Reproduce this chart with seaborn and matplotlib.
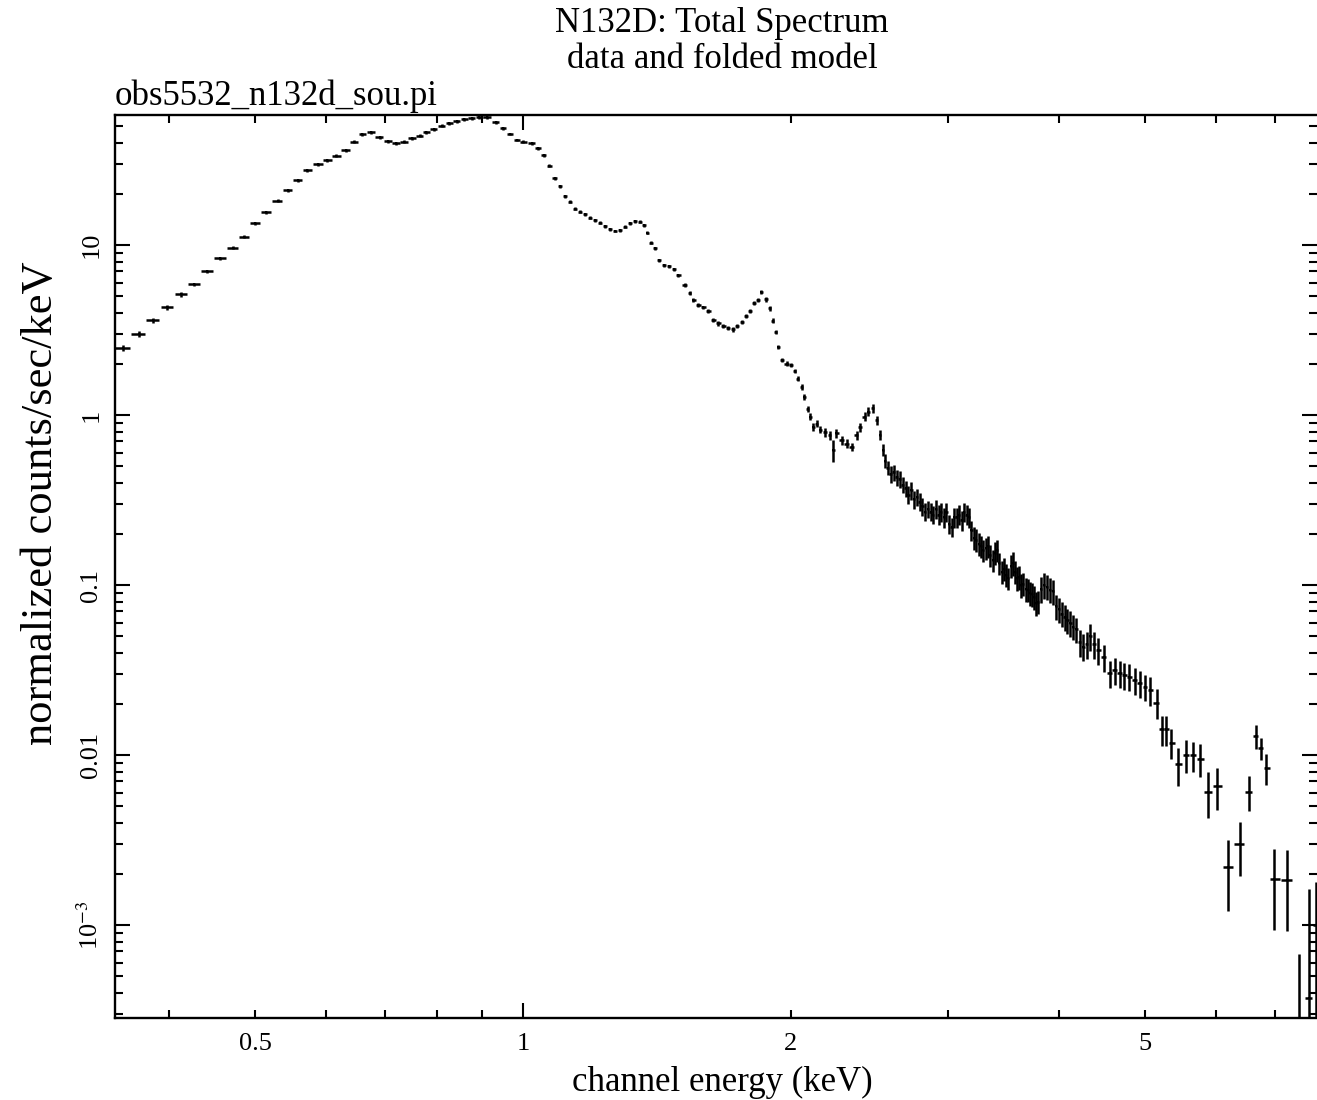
import numpy as np
import pandas as pd
import matplotlib
matplotlib.use("Agg")
import matplotlib.pyplot as plt
import seaborn as sns
from matplotlib.ticker import FixedLocator, FixedFormatter, NullFormatter

# ---------------- data ----------------
energy_soft = [0.355, 0.370, 0.384, 0.398, 0.413, 0.427, 0.442, 0.457, 0.472, 0.486,
               0.500, 0.514, 0.530, 0.544, 0.558, 0.572, 0.589, 0.603, 0.617, 0.632,
               0.646, 0.660, 0.674, 0.690, 0.705, 0.720, 0.735, 0.750, 0.766, 0.779,
               0.794, 0.810, 0.826, 0.842, 0.859, 0.876, 0.893, 0.910, 0.932]
flux_soft = [2.47, 2.99, 3.62, 4.30, 5.13, 5.87, 7.0, 8.35, 9.64, 11.2,
             13.4, 15.6, 18.2, 21.0, 24.1, 27.6, 29.9, 31.6, 33.5, 36.2,
             40.5, 44.8, 46.0, 43.0, 40.9, 39.6, 40.5, 42.4, 44.0, 46.0,
             48.1, 50.3, 52.0, 53.6, 54.8, 55.6, 56.4, 56.4, 52.8]
rel_err_soft = [0.04, 0.04, 0.035, 0.03, 0.03, 0.025, 0.025, 0.02, 0.02, 0.02,
                0.02, 0.02, 0.02, 0.02, 0.02, 0.02, 0.02, 0.02, 0.02, 0.02,
                0.02, 0.02, 0.02, 0.02, 0.02, 0.02, 0.02, 0.02, 0.02, 0.02,
                0.02, 0.02, 0.02, 0.02, 0.02, 0.02, 0.02, 0.02, 0.02]

energy_mid = [0.950, 0.967, 0.984, 1.000, 1.023, 1.040, 1.056, 1.070, 1.086, 1.100,
              1.115, 1.129, 1.144, 1.159, 1.174, 1.189, 1.205, 1.220, 1.236, 1.252,
              1.269, 1.285, 1.302, 1.319, 1.336, 1.353, 1.369, 1.379, 1.392, 1.407,
              1.423, 1.440, 1.460, 1.478, 1.495, 1.520, 1.540, 1.553, 1.574, 1.594,
              1.615, 1.636, 1.657, 1.679, 1.701, 1.720, 1.741, 1.761, 1.781, 1.800,
              1.819, 1.838, 1.851, 1.875, 1.894, 1.908, 1.922, 1.936, 1.952, 1.978,
              2.000, 2.021, 2.035, 2.056, 2.071, 2.089, 2.101, 2.120, 2.138, 2.157,
              2.184, 2.213, 2.230, 2.250, 2.280, 2.310, 2.340, 2.370, 2.390, 2.420,
              2.443, 2.470, 2.497, 2.520, 2.535]
flux_mid = [48.5, 45.0, 41.5, 40.5, 39.6, 37.0, 33.8, 29.3, 24.7, 22.2,
            19.4, 18.0, 16.4, 15.7, 15.2, 14.5, 14.0, 13.5, 12.9, 12.4,
            12.1, 12.2, 12.8, 13.4, 13.8, 13.7, 13.1, 11.8, 10.3, 9.56,
            8.16, 7.62, 7.52, 7.19, 6.66, 5.82, 5.20, 4.75, 4.44, 4.30,
            4.09, 3.62, 3.46, 3.34, 3.24, 3.19, 3.34, 3.54, 3.82, 4.09,
            4.58, 4.75, 5.31, 4.79, 4.24, 3.59, 3.09, 2.52, 2.11, 2.01,
            1.97, 1.82, 1.64, 1.47, 1.28, 1.08, 0.98, 0.85, 0.89, 0.82,
            0.79, 0.76, 0.62, 0.78, 0.71, 0.68, 0.65, 0.76, 0.85, 0.98,
            1.045, 1.095, 0.935, 0.763, 0.622]
rel_err_mid = [0.02, 0.02, 0.02, 0.02, 0.02, 0.02, 0.02, 0.02, 0.02, 0.02,
               0.02, 0.02, 0.02, 0.02, 0.02, 0.02, 0.02, 0.02, 0.02, 0.02,
               0.02, 0.02, 0.02, 0.02, 0.02, 0.02, 0.02, 0.02, 0.02, 0.02,
               0.02, 0.02, 0.02, 0.02, 0.02, 0.025, 0.025, 0.025, 0.025, 0.025,
               0.03, 0.03, 0.03, 0.03, 0.03, 0.03, 0.03, 0.03, 0.03, 0.03,
               0.03, 0.03, 0.03, 0.03, 0.03, 0.03, 0.03, 0.03, 0.03, 0.03,
               0.03, 0.03, 0.035, 0.04, 0.04, 0.04, 0.05, 0.05, 0.05, 0.05,
               0.06, 0.06, 0.15, 0.06, 0.06, 0.06, 0.06, 0.06, 0.06, 0.06,
               0.06, 0.06, 0.06, 0.07, 0.08]

energy_hard = [2.55, 2.57, 2.59, 2.61, 2.63, 2.65, 2.67, 2.69, 2.71, 2.73,
               2.75, 2.77, 2.79, 2.81, 2.83, 2.85, 2.87, 2.89, 2.91, 2.93,
               2.95, 2.97, 2.99, 3.01, 3.03, 3.05, 3.07, 3.09, 3.11, 3.13,
               3.15, 3.17, 3.19, 3.21, 3.23, 3.25, 3.27, 3.29, 3.31, 3.33,
               3.35, 3.37, 3.39, 3.41, 3.43, 3.45, 3.47, 3.49, 3.51, 3.53,
               3.55, 3.57, 3.59, 3.61, 3.63, 3.65, 3.67, 3.69, 3.71, 3.73,
               3.75, 3.77, 3.79, 3.82, 3.85, 3.88, 3.91, 3.94, 3.97, 4.00,
               4.03, 4.06, 4.09, 4.12, 4.15, 4.18, 4.22, 4.26, 4.30, 4.34,
               4.38, 4.43, 4.49, 4.56, 4.62, 4.68, 4.74, 4.80, 4.87, 4.93,
               5.00, 5.06, 5.15]
flux_hard = [0.54, 0.49, 0.45, 0.46, 0.43, 0.42, 0.39, 0.37, 0.34, 0.36,
             0.32, 0.33, 0.31, 0.29, 0.27, 0.28, 0.27, 0.26, 0.28, 0.26,
             0.27, 0.25, 0.27, 0.23, 0.22, 0.25, 0.25, 0.26, 0.24, 0.27,
             0.26, 0.25, 0.21, 0.19, 0.185, 0.175, 0.17, 0.16, 0.165, 0.17,
             0.15, 0.14, 0.155, 0.16, 0.135, 0.12, 0.125, 0.115, 0.11, 0.13,
             0.135, 0.12, 0.11, 0.112, 0.10, 0.102, 0.095, 0.094, 0.09, 0.089,
             0.085, 0.078, 0.08, 0.095, 0.10, 0.098, 0.094, 0.092, 0.075, 0.072,
             0.068, 0.065, 0.062, 0.06, 0.057, 0.055, 0.046, 0.0435, 0.045, 0.05,
             0.045, 0.0415, 0.0378, 0.0302, 0.0316, 0.0302, 0.0295, 0.0289, 0.0276, 0.0264,
             0.0252, 0.0241, 0.0203]
rel_err_hard = [0.10, 0.10, 0.11, 0.11, 0.11, 0.11, 0.11, 0.11, 0.12, 0.12,
                0.12, 0.12, 0.12, 0.12, 0.12, 0.12, 0.12, 0.12, 0.13, 0.13,
                0.13, 0.13, 0.13, 0.13, 0.13, 0.13, 0.13, 0.13, 0.13, 0.13,
                0.13, 0.13, 0.14, 0.15, 0.15, 0.15, 0.15, 0.15, 0.15, 0.15,
                0.15, 0.15, 0.15, 0.15, 0.15, 0.15, 0.15, 0.15, 0.15, 0.15,
                0.16, 0.16, 0.16, 0.16, 0.16, 0.16, 0.16, 0.16, 0.16, 0.16,
                0.16, 0.16, 0.16, 0.17, 0.17, 0.17, 0.17, 0.17, 0.17, 0.17,
                0.17, 0.17, 0.17, 0.17, 0.17, 0.17, 0.18, 0.18, 0.18, 0.18,
                0.18, 0.18, 0.18, 0.18, 0.18, 0.18, 0.18, 0.18, 0.18, 0.18,
                0.18, 0.19, 0.20]

energy_tail = [5.22, 5.28, 5.35, 5.45, 5.56, 5.66, 5.77, 5.88, 6.02, 6.19,
               6.39, 6.55, 6.66, 6.74, 6.84, 6.97, 7.21, 7.45, 7.65, 7.78]
flux_tail = [0.0142, 0.0142, 0.0118, 0.0088, 0.0100, 0.0100, 0.0095, 0.0061, 0.0066, 0.00219,
             0.0030, 0.0061, 0.0129, 0.0110, 0.0084, 0.00187, 0.00184, 0.00015, 0.00037, 0.0010]
rel_err_tail = [0.20, 0.20, 0.20, 0.25, 0.22, 0.20, 0.22, 0.30, 0.28, 0.45,
                0.35, 0.23, 0.16, 0.15, 0.21, 0.50, 0.50, 3.5, 3.4, 0.80]

x_tick_minor = [0.4, 0.5, 0.6, 0.7, 0.8, 0.9, 2, 3, 4, 5, 6, 7]
x_tick_minor_labels = ["", "0.5", "", "", "", "", "2", "", "", "5", "", ""]
y_tick_major = [1e-3, 1e-2, 0.1, 1, 10]
y_tick_labels = ["10$^{-3}$", "0.01", "0.1", "1", "10"]

# ---------------- assemble ----------------
energy = np.array(energy_soft + energy_mid + energy_hard + energy_tail)
flux = np.array(flux_soft + flux_mid + flux_hard + flux_tail)
rel = np.array(rel_err_soft + rel_err_mid + rel_err_hard + rel_err_tail)
assert len(energy) == len(flux) == len(rel)
df = pd.DataFrame({"energy": energy, "flux": flux, "err": flux * rel})

# bin half-widths from the spacing of neighbouring channels (log space)
logE = np.log10(energy)
mids = (logE[:-1] + logE[1:]) / 2
lo = np.concatenate([[2 * logE[0] - mids[0]], mids])
hi = np.concatenate([mids, [2 * logE[-1] - mids[-1]]])
frac = 0.92
xerr_lo = energy - 10 ** (logE - frac * (logE - lo))
xerr_hi = 10 ** (logE + frac * (hi - logE)) - energy

# ---------------- style ----------------
sns.set_theme(style="ticks")
plt.rcParams["font.family"] = ["Liberation Serif", "DejaVu Serif"]
plt.rcParams["mathtext.fontset"] = "stix"
plt.rcParams["axes.edgecolor"] = "black"
plt.rcParams["xtick.color"] = "black"
plt.rcParams["ytick.color"] = "black"
plt.rcParams["text.color"] = "black"

W, H = 1317, 1100
fig = plt.figure(figsize=(W / 100, H / 100), dpi=100)
fig.patch.set_facecolor("white")
ax_l, ax_t, ax_b, ax_r = 115, 115, 1018, 1317
ax = fig.add_axes([ax_l / W, 1 - ax_b / H, (ax_r - ax_l) / W, (ax_b - ax_t) / H])
ax.set_facecolor("white")
ax.set_xscale("log")
ax.set_yscale("log", nonpositive="clip")

ax.errorbar(df["energy"], df["flux"], xerr=[xerr_lo, xerr_hi], yerr=df["err"],
            fmt="none", ecolor="black", elinewidth=1.8, capsize=0, zorder=3)
sns.scatterplot(data=df, x="energy", y="flux", ax=ax, marker="s", s=4,
                color="black", linewidth=0, legend=False, zorder=4)

ax.set_xlim(0.348, 7.80)
ax.set_ylim(2.84e-4, 58.2)

# ticks
ax.xaxis.set_major_locator(FixedLocator([1]))
ax.xaxis.set_major_formatter(FixedFormatter(["1"]))
ax.xaxis.set_minor_locator(FixedLocator(x_tick_minor))
ax.xaxis.set_minor_formatter(FixedFormatter(x_tick_minor_labels))
ax.yaxis.set_major_locator(FixedLocator(y_tick_major))
ax.yaxis.set_major_formatter(FixedFormatter(y_tick_labels))
y_minor = [k * 10.0 ** d for d in range(-4, 2) for k in range(2, 10)]
ax.yaxis.set_minor_locator(FixedLocator(y_minor))
ax.yaxis.set_minor_formatter(NullFormatter())

ax.tick_params(which="both", direction="in", top=True, right=True,
               width=1.5, colors="black")
ax.tick_params(which="major", length=11)
ax.tick_params(which="minor", length=5.5)
ax.tick_params(axis="x", which="both", labelsize=19, pad=11)
ax.tick_params(axis="y", which="major", labelsize=19, pad=9)
plt.setp(ax.get_yticklabels(), rotation=90, va="center")

for side in ["left", "bottom", "top"]:
    ax.spines[side].set_linewidth(1.7)
    ax.spines[side].set_color("black")
ax.spines["right"].set_visible(False)
ax.set_xlabel("")
ax.set_ylabel("")
ax.grid(False)

# texts
fig.text(722 / W, 1 - 24 / H, "N132D: Total Spectrum", ha="center", va="center", fontsize=25)
fig.text(722 / W, 1 - 59 / H, "data and folded model", ha="center", va="center", fontsize=25)
fig.text(ax_l / W, 1 - 96 / H, "obs5532_n132d_sou.pi", ha="left", va="center", fontsize=25)
fig.text(722 / W, 1 - 1082 / H, "channel energy (keV)", ha="center", va="center", fontsize=25)
fig.text(41 / W, 1 - 503 / H, "normalized counts/sec/keV", rotation=90,
         ha="center", va="center", fontsize=32)

fig.savefig("out.png", dpi=100)
